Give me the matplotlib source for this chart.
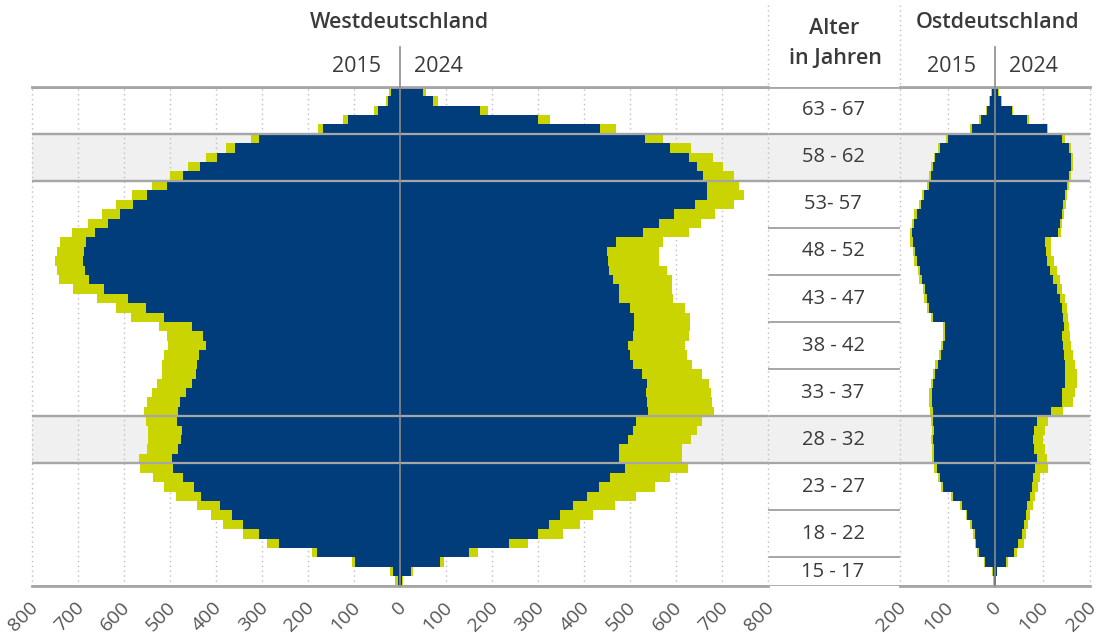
import matplotlib
matplotlib.use("Agg")
import matplotlib.pyplot as plt
from matplotlib.lines import Line2D
from matplotlib.transforms import ScaledTranslation

plt.rcParams["font.family"] = ["Open Sans", "DejaVu Sans"]

# Single years of age, listed from the oldest (top) to the youngest (bottom)
ages = list(range(67, 14, -1))

# Westdeutschland, values in thousands
west_2015_total = [25, 31, 57, 123, 178, 325, 379, 422, 460, 500, 540, 582, 617, 647, 679,
                   712, 739, 746, 751, 745, 741, 710, 659, 618, 585, 523, 507, 504, 514, 518,
                   518, 529, 540, 551, 556, 553, 547, 547, 551, 567, 565, 538, 512, 488, 442,
                   411, 384, 341, 290, 192, 104, 22, 11]
west_2015_part = [20, 27, 48, 114, 167, 306, 358, 397, 435, 472, 507, 549, 580, 609, 635,
                  664, 683, 688, 690, 685, 676, 643, 591, 553, 514, 452, 429, 422, 436, 442,
                  443, 453, 466, 478, 482, 484, 475, 476, 482, 495, 493, 472, 447, 433, 391,
                  366, 342, 307, 262, 181, 98, 16, 4]
west_2024_total = [57, 83, 192, 326, 469, 572, 633, 681, 703, 727, 736, 748, 727, 685, 654,
                   628, 572, 562, 562, 580, 591, 591, 594, 620, 630, 630, 629, 620, 623, 634,
                   657, 672, 675, 678, 683, 657, 645, 633, 612, 614, 625, 587, 554, 512, 467,
                   420, 391, 355, 279, 170, 96, 29, 6]
west_2024_part = [49, 72, 174, 299, 435, 533, 587, 628, 645, 659, 667, 667, 641, 596, 562,
                  529, 469, 451, 453, 455, 464, 475, 475, 500, 509, 509, 507, 496, 500, 507,
                  525, 536, 535, 536, 540, 514, 506, 495, 475, 475, 489, 457, 433, 407, 377,
                  348, 324, 299, 238, 150, 87, 24, 4]

# Ostdeutschland, values in thousands
east_2015_total = [8, 12, 18, 33, 52, 103, 119, 129, 134, 138, 144, 153, 160, 170, 175,
                   180, 179, 173, 170, 163, 159, 152, 149, 144, 135, 109, 110, 114, 118, 126,
                   131, 135, 138, 138, 136, 135, 133, 135, 133, 133, 128, 121, 114, 92, 74,
                   62, 53, 46, 43, 37, 24, 7, 4]
east_2015_part = [6, 10, 16, 30, 49, 100, 116, 126, 131, 135, 140, 149, 156, 165, 170,
                  174, 173, 168, 165, 158, 154, 147, 144, 139, 130, 105, 105, 109, 113, 121,
                  126, 130, 133, 133, 131, 130, 128, 130, 128, 128, 123, 116, 109, 88, 70,
                  58, 49, 42, 39, 34, 21, 5, 3]
east_2024_total = [8, 14, 38, 72, 112, 147, 161, 165, 164, 160, 156, 152, 149, 145, 142,
                   138, 117, 118, 124, 130, 137, 142, 147, 151, 154, 156, 158, 161, 165, 168,
                   172, 173, 168, 165, 143, 112, 105, 102, 105, 109, 112, 95, 91, 84, 79,
                   74, 70, 65, 60, 46, 28, 5, 3]
east_2024_part = [7, 12, 35, 67, 109, 142, 156, 161, 159, 156, 151, 147, 144, 140, 137,
                  133, 105, 107, 109, 116, 123, 130, 137, 140, 144, 145, 142, 144, 145, 147,
                  147, 147, 142, 140, 117, 88, 82, 79, 82, 88, 84, 81, 77, 74, 67,
                  65, 61, 56, 49, 39, 23, 4, 2]

# Age groups shown in the middle column (oldest first) and the shaded groups
group_labels = ["63 - 67", "58 - 62", "53- 57", "48 - 52", "43 - 47", "38 - 42",
                "33 - 37", "28 - 32", "23 - 27", "18 - 22", "15 - 17"]
group_bounds = [(63, 67), (58, 62), (53, 57), (48, 52), (43, 47), (38, 42),
                (33, 37), (28, 32), (23, 27), (18, 22), (15, 17)]
shaded_groups = [(58, 62), (28, 32)]

west_ticks = list(range(-800, 801, 100))
east_ticks = list(range(-200, 201, 100))

BLUE = "#023d7b"
LIME = "#c9d400"
BAND = "#f0f0f0"
LINE = "#a6a6a6"
GRID = "#bdbdbd"
TEXT = "#3a3a3a"
TICK = "#555555"

W, H = 1104, 633
fig = plt.figure(figsize=(W / 100, H / 100), dpi=100)


def fx(px):
    return px / W


def fy(py):
    return 1 - py / H


plot_top, plot_bottom = 86.7, 585.7
ax_h = (plot_bottom - plot_top) / H
y_lo, y_hi = 14.5, 67.5

# background layer: shaded bands, middle column separators and age labels
ax_bg = fig.add_axes([fx(32), fy(plot_bottom), fx(1090) - fx(32), ax_h], zorder=0)
ax_bg.set_xlim(32, 1090)
ax_bg.set_ylim(y_lo, y_hi)
ax_bg.axis("off")
for lo, hi in shaded_groups:
    ax_bg.axhspan(lo - 0.5, hi + 0.5, color=BAND, lw=0)
    for b in (lo - 0.5, hi + 0.5):
        ax_bg.plot([32, 1090], [b, b], color=LINE, lw=1.6, solid_capstyle="butt")
for lo, hi in group_bounds[:-1]:
    ax_bg.plot([768, 900], [lo - 0.5, lo - 0.5], color=LINE, lw=1.4, solid_capstyle="butt")
for b in (y_lo, y_hi):
    ax_bg.plot([32, 1090], [b, b], color=LINE, lw=2.0, solid_capstyle="butt")
for label, (lo, hi) in zip(group_labels, group_bounds):
    ax_bg.text(833, (lo + hi) / 2, label, ha="center", va="center",
               fontsize=14.5, color=TEXT)


def pyramid(ax, left_total, left_part, right_total, right_part, ticks, lim):
    ax.set_facecolor("none")
    ax.barh(ages, [-v for v in left_total], height=1.0, color=LIME, lw=0, zorder=2)
    ax.barh(ages, [-v for v in left_part], height=1.0, color=BLUE, lw=0, zorder=2.1)
    ax.barh(ages, right_total, height=1.0, color=LIME, lw=0, zorder=2)
    ax.barh(ages, right_part, height=1.0, color=BLUE, lw=0, zorder=2.1)
    ax.set_xlim(-lim, lim)
    ax.set_ylim(y_lo, y_hi)
    for t in ticks:
        if t != 0:
            ax.axvline(t, color=GRID, lw=1.0, ls=(0, (1, 2.5)), zorder=1, clip_on=False)
    for lo, hi in shaded_groups:
        for b in (lo - 0.5, hi + 0.5):
            ax.axhline(b, color=LINE, lw=1.6, zorder=3)
    ax.axhline(y_lo, color=LINE, lw=2.0, zorder=3, clip_on=False)
    ax.axhline(y_hi, color=LINE, lw=2.0, zorder=3, clip_on=False)
    ax.axvline(0, ymin=0, ymax=1 + (plot_top - 47) / (plot_bottom - plot_top),
               color="#8c8c8c", lw=1.2, zorder=4, clip_on=False)
    for s in ax.spines.values():
        s.set_visible(False)
    ax.set_yticks([])
    ax.set_xticks(ticks)
    ax.set_xticklabels([str(abs(t)) for t in ticks])
    ax.tick_params(axis="x", length=0, pad=13.5, labelsize=14, labelcolor=TICK)
    shift = ScaledTranslation(3 / 100, 0, fig.dpi_scale_trans)
    for lab in ax.get_xticklabels():
        lab.set_rotation(45)
        lab.set_rotation_mode("anchor")
        lab.set_ha("right")
        lab.set_va("center")
        lab.set_transform(lab.get_transform() + shift)


ax_w = fig.add_axes([fx(32), fy(plot_bottom), fx(768) - fx(32), ax_h], zorder=1)
pyramid(ax_w, west_2015_total, west_2015_part, west_2024_total, west_2024_part,
        west_ticks, 800)

ax_e = fig.add_axes([fx(900), fy(plot_bottom), fx(1090) - fx(900), ax_h], zorder=1)
pyramid(ax_e, east_2015_total, east_2015_part, east_2024_total, east_2024_part,
        east_ticks, 200)

# dotted dividers of the header row
for px in (768, 900):
    fig.add_artist(Line2D([fx(px), fx(px)], [fy(5), fy(plot_top)], color=GRID,
                          lw=1.0, ls=(0, (1, 2.5))))

# headings
fig.text(fx(399), fy(22), "Westdeutschland", ha="center", va="center",
         fontsize=15.5, fontweight="semibold", color=TEXT)
fig.text(fx(998), fy(22), "Ostdeutschland", ha="center", va="center",
         fontsize=15.5, fontweight="semibold", color=TEXT)
fig.text(fx(834), fy(29), "Alter", ha="center", va="center",
         fontsize=15.5, fontweight="semibold", color=TEXT)
fig.text(fx(835), fy(58), "in Jahren", ha="center", va="center",
         fontsize=15.5, fontweight="semibold", color=TEXT)
for cx in (400, 995):
    fig.text(fx(cx - 19), fy(67), "2015", ha="right", va="center",
             fontsize=15.5, color=TEXT)
    fig.text(fx(cx + 14), fy(67), "2024", ha="left", va="center",
             fontsize=15.5, color=TEXT)

fig.savefig("out.png", dpi=100)
